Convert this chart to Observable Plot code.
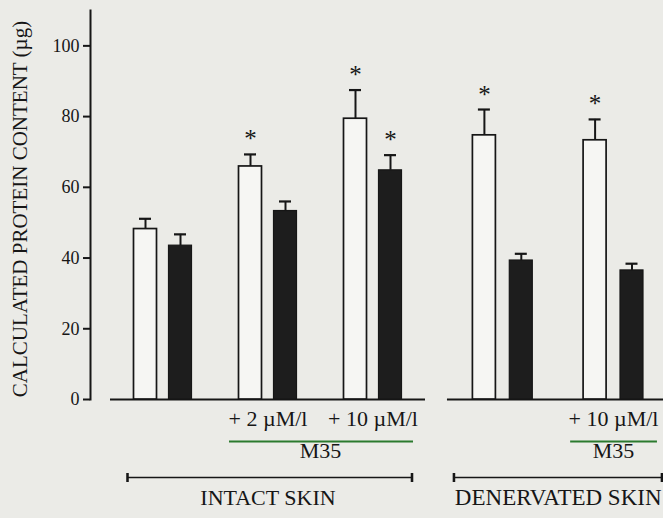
<!DOCTYPE html>
<html><head><meta charset="utf-8">
<script src="https://cdn.jsdelivr.net/npm/d3@7"></script>
<script src="https://cdn.jsdelivr.net/npm/@observablehq/plot@0.6"></script>
<style>
html,body{margin:0;padding:0;background:#ebebe7;overflow:hidden}
#chart{display:flex;width:663px;height:518px}
#chart svg{display:block;flex:none}
#chart svg, #chart svg text{font-family:"Liberation Serif", "DejaVu Serif", serif !important}
</style></head><body><div id="chart"></div>
<script>
// ---- data ----
const yTicks = [0, 20, 40, 60, 80, 100];
const yLabel = "CALCULATED PROTEIN CONTENT (µg)";
const drugLabel = "M35";

const intactLabel = "INTACT SKIN";
const intactConditions = ["control", "+ 2 µM/l", "+ 10 µM/l"];
const intactOpen = [48.2, 65.9, 79.4];
const intactOpenErr = [2.9, 3.4, 8.1];
const intactFilled = [43.5, 53.3, 64.8];
const intactFilledErr = [3.2, 2.7, 4.3];
const intactOpenSig = [false, true, true];
const intactFilledSig = [false, false, true];

const denervatedLabel = "DENERVATED SKIN";
const denervatedConditions = ["control", "+ 10 µM/l"];
const denervatedOpen = [74.7, 73.3];
const denervatedOpenErr = [7.3, 5.9];
const denervatedFilled = [39.3, 36.5];
const denervatedFilledErr = [1.9, 1.9];
const denervatedOpenSig = [true, true];
const denervatedFilledSig = [false, false];

// ---- drawing ----
const ink = "#161616";
const green = "#2b7a2e";
const serif = "Liberation Serif";

function panel(cfg) {
  const {conds, open, openErr, filled, filledErr, openSig, filledSig, skin, skinSize,
         width, marginLeft, marginRight, range, withAxis, baseIn, greenIn, bracketIn} = cfg;
  const rows = [];
  conds.forEach((c, i) => {
    rows.push({key: c + "|open", series: "open", value: open[i], err: openErr[i], sig: openSig[i]});
    rows.push({key: c + "|filled", series: "filled", value: filled[i], err: filledErr[i], sig: filledSig[i]});
  });
  const domain = [];
  conds.forEach((c, i) => { if (i) domain.push("gap" + i); domain.push(c + "|open", c + "|filled"); });
  const step = (range[1] - range[0]) / (domain.length + 1);
  const idx = k => domain.indexOf(k);
  const treated = conds.filter(c => c !== "control");
  const firstT = treated[0] + "|open", lastT = treated[treated.length - 1] + "|filled";
  const first = conds[0] + "|open", last = conds[conds.length - 1] + "|filled";
  const barInset = (step - 23) / 2;
  const capInset = (step - 12) / 2;

  const marks = [
    Plot.ruleY([0], {x1: () => first, x2: () => last, stroke: ink, strokeWidth: 2, insetLeft: baseIn[0], insetRight: baseIn[1]}),
    Plot.barY(rows.filter(d => d.series === "open"), {x: "key", y: "value", fill: "#f6f6f3", stroke: ink, strokeWidth: 1.7, insetLeft: barInset, insetRight: barInset}),
    Plot.barY(rows.filter(d => d.series === "filled"), {x: "key", y: "value", fill: "#1d1d1d", stroke: ink, strokeWidth: 1.2, insetLeft: barInset, insetRight: barInset}),
    Plot.ruleX(rows, {x: "key", y1: "value", y2: d => d.value + d.err, stroke: ink, strokeWidth: 2}),
    Plot.tickY(rows, {x: "key", y: d => d.value + d.err, stroke: ink, strokeWidth: 2.2, insetLeft: capInset, insetRight: capInset}),
    Plot.text(rows.filter(d => d.sig), {x: "key", y: d => d.value + d.err, text: () => "*", dy: -15, fontSize: 25, fontFamily: serif, fill: ink}),
    // condition labels
    Plot.text(treated, {x: c => c + "|open", text: c => c, frameAnchor: "bottom", dx: step / 2, dy: 26.5, fontSize: 22, fontFamily: serif, fill: ink}),
    // green underline
    Plot.ruleY([0], {x1: () => firstT, x2: () => lastT, dy: 42, stroke: green, strokeWidth: 2.2, insetLeft: greenIn[0], insetRight: greenIn[1]}),
    Plot.text([drugLabel], {x: () => firstT, frameAnchor: "bottom", dx: (idx(lastT) - idx(firstT)) / 2 * step, dy: 58.5, fontSize: 22, fontFamily: serif, fill: ink}),
    // bracket
    Plot.ruleY([0], {x1: () => first, x2: () => last, dy: 78, stroke: ink, strokeWidth: 1.6, markerStart: "tick", markerEnd: "tick", insetLeft: bracketIn[0], insetRight: bracketIn[1]}),
    Plot.text([skin], {x: () => first, frameAnchor: "bottom", dx: (idx(last) - idx(first)) / 2 * step, dy: 105.5, fontSize: skinSize, fontFamily: serif, fill: ink})
  ];
  if (withAxis) {
    marks.push(
      Plot.frame({anchor: "left", stroke: ink, strokeWidth: 2}),
      Plot.axisY({ticks: yTicks, tickSize: 7, tickPadding: 4, fontSize: 18, fontFamily: serif, strokeWidth: 2, stroke: ink, fill: ink, label: null}),
      Plot.text([yLabel], {frameAnchor: "left", textAnchor: "middle", rotate: -90, dx: -70, dy: 4, fontSize: 21, fontFamily: serif, fill: ink})
    );
  }
  return Plot.plot({
    width, height: 518,
    marginLeft, marginRight, marginTop: 10, marginBottom: 119,
    x: {type: "band", domain, range, paddingInner: 0, paddingOuter: 0.5, round: false, axis: null},
    y: {domain: [0, 110], axis: null},
    style: {fontFamily: serif, background: "transparent", color: ink, overflow: "hidden"},
    marks
  });
}

const chart = document.getElementById("chart");
chart.append(panel({
  conds: intactConditions, open: intactOpen, openErr: intactOpenErr, filled: intactFilled, filledErr: intactFilledErr,
  openSig: intactOpenSig, filledSig: intactFilledSig, skin: intactLabel, skinSize: 22,
  width: 436, marginLeft: 90, marginRight: 11, range: [110, 425], withAxis: true,
  baseIn: [-17.5, -17.5], greenIn: [-3.5, -5.5], bracketIn: [0, -4.5]
}));
chart.append(panel({
  conds: denervatedConditions, open: denervatedOpen, openErr: denervatedOpenErr, filled: denervatedFilled, filledErr: denervatedFilledErr,
  openSig: denervatedOpenSig, filledSig: denervatedFilledSig, skin: denervatedLabel, skinSize: 23,
  width: 227, marginLeft: 11, marginRight: 0, range: [11, 232.4], withAxis: false,
  baseIn: [-18.5, -40], greenIn: [-6, -7], bracketIn: [-11.5, -12]
}));
</script></body></html>
